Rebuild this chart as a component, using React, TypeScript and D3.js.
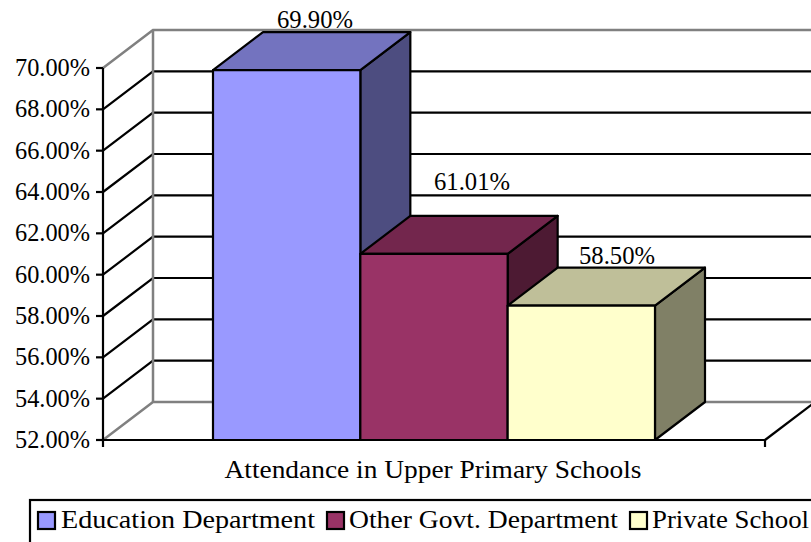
import React from 'react'
import * as d3 from 'd3'

const seriesNames = ['Education Department', 'Other Govt. Department', 'Private School']
const seriesValues = [69.9, 61.01, 58.5]
const valueLabels = ['69.90%', '61.01%', '58.50%']
const yTicks = [52, 54, 56, 58, 60, 62, 64, 66, 68, 70]
const categoryName = 'Attendance in Upper Primary Schools'

const frontColors = ['#9999ff', '#993366', '#ffffcc']
const topColors = ['#7373bf', '#73264d', '#bfbf99']
const sideColors = ['#4d4d80', '#4d1a33', '#808066']

const width = 811
const height = 542
const depthX = 50
const depthY = 38
const font = '"Liberation Serif", serif'
const fontSize = 24.5

const legendSwatchX = [38, 327, 630]
const legendTextX = [61, 349, 652]
const legendTextW = [254, 269, 157]
const labelX = [315, 472, 617]
const labelDy = [-42, -64, -42]

function App() {
    const y = d3.scaleLinear().domain([52, 70]).range([440, 68])
    const x = d3.scaleBand<string>().domain(seriesNames).range([213, 655])
    const line = d3.line()
    const left = 103
    const right = 765
    const poly = (pts: [number, number][]) => line(pts) + 'Z'
    const wall = (t: number) => line([[left, y(t)], [left + depthX, y(t) - depthY], [right + depthX, y(t) - depthY]]) as string

    return (
        <svg width={width} height={height} style={{ position: 'absolute', left: 0, top: 0, display: 'block', background: '#fff' }}>
            {/* gridlines */}
            {yTicks.filter(t => t !== 52 && t !== 70).map(t => (
                <path key={t} d={wall(t)} fill="none" stroke="#000" strokeWidth={2.2} />
            ))}

            {/* back wall and floor */}
            <line x1={left + depthX} x2={left + depthX} y1={y(70) - depthY} y2={y(52) - depthY} stroke="#808080" strokeWidth={2.5} />
            <path d={wall(70)} fill="none" stroke="#808080" strokeWidth={2.5} />
            <path d={wall(52)} fill="none" stroke="#808080" strokeWidth={2.5} />

            {/* floor edge */}
            <line x1={right} y1={y(52)} x2={right + depthX} y2={y(52) - depthY} stroke="#000" strokeWidth={2.2} />

            {/* axes */}
            <line x1={left} x2={left} y1={y(70)} y2={y(52) + 7} stroke="#000" strokeWidth={2.2} />
            <line x1={left - 7} x2={right} y1={y(52)} y2={y(52)} stroke="#000" strokeWidth={2.2} />
            <line x1={right} x2={right} y1={y(52)} y2={y(52) + 7} stroke="#000" strokeWidth={2.2} />
            {yTicks.map(t => (
                <g key={t}>
                    <line x1={left - 7} x2={left} y1={y(t)} y2={y(t)} stroke="#000" strokeWidth={2.2} />
                    <text x={90} y={y(t) + 8} textAnchor="end" fontFamily={font} fontSize={fontSize} fill="#000" textLength={75} lengthAdjust="spacingAndGlyphs">{t.toFixed(2)}%</text>
                </g>
            ))}

            {/* bars */}
            {seriesNames.map((s, i) => {
                const x0 = x(s) as number
                const x1 = x0 + x.bandwidth()
                const top = y(seriesValues[i])
                const base = y(52)
                return (
                    <g key={s} stroke="#000" strokeWidth={2.2} strokeLinejoin="round">
                        <path d={poly([[x1, base], [x1 + depthX, base - depthY], [x1 + depthX, top - depthY], [x1, top]])} fill={sideColors[i]} />
                        <path d={poly([[x0, top], [x0 + depthX, top - depthY], [x1 + depthX, top - depthY], [x1, top]])} fill={topColors[i]} />
                        <rect x={x0} y={top} width={x.bandwidth()} height={base - top} fill={frontColors[i]} />
                    </g>
                )
            })}

            {/* value labels */}
            {valueLabels.map((l, i) => (
                <text key={l} x={labelX[i]} y={y(seriesValues[i]) + labelDy[i]} textAnchor="middle" fontFamily={font} fontSize={fontSize} fill="#000" textLength={76} lengthAdjust="spacingAndGlyphs">{l}</text>
            ))}

            <text x={433} y={478} textAnchor="middle" fontFamily={font} fontSize={fontSize} fill="#000" textLength={417} lengthAdjust="spacingAndGlyphs">{categoryName}</text>

            {/* legend, runs off the page on the right and bottom */}
            <rect x={30} y={500} width={800} height={60} fill="#fff" stroke="#000" strokeWidth={2.2} />
            {seriesNames.map((s, i) => (
                <g key={s}>
                    <rect x={legendSwatchX[i]} y={512} width={17} height={17} fill={frontColors[i]} stroke="#000" strokeWidth={2.2} />
                    <text x={legendTextX[i]} y={528} fontFamily={font} fontSize={fontSize} fill="#000" textLength={legendTextW[i]} lengthAdjust="spacingAndGlyphs">{s}</text>
                </g>
            ))}
        </svg>
    )
}

export default App
